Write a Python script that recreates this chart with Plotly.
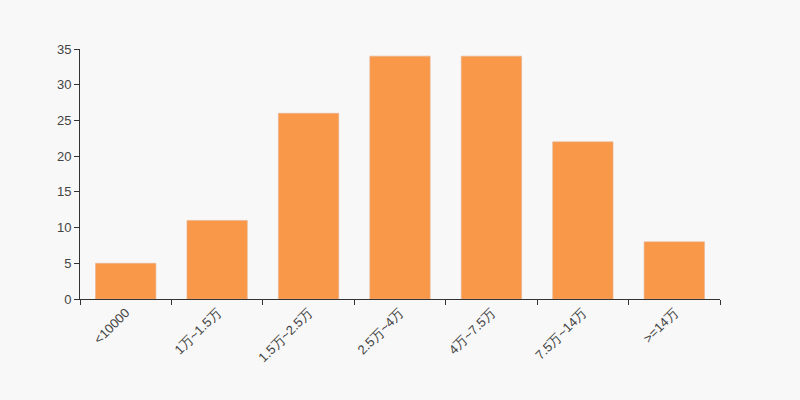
import plotly.graph_objects as go

categories = ["<10000", "1万~1.5万", "1.5万~2.5万", "2.5万~4万", "4万~7.5万", "7.5万~14万", ">=14万"]
values = [5, 11, 26, 34, 34, 22, 8]

fig = go.Figure(go.Bar(
    x=categories, y=values,
    marker=dict(color="#f89848", line=dict(color="#e8b090", width=0.6)),
    hoverinfo="x+y",
))
fig.update_layout(
    width=800, height=400,
    margin=dict(l=80, r=80, t=49, b=101),
    paper_bgcolor="#f8f8f8", plot_bgcolor="#f8f8f8",
    bargap=0.34, showlegend=False,
    font=dict(family="Liberation Sans, Arial, sans-serif", size=13, color="#333"),
)
fig.update_xaxes(
    type="category", tickangle=-45, tickson="boundaries",
    ticks="outside", ticklen=5, tickcolor="#333",
    showline=True, linecolor="#333", linewidth=1,
    showgrid=False, zeroline=False,
    tickfont=dict(size=13, color="#444"),
)
fig.update_yaxes(
    range=[0, 35], dtick=5,
    ticks="outside", ticklen=5, tickcolor="#333",
    showline=True, linecolor="#333", linewidth=1,
    showgrid=False, zeroline=False,
    tickfont=dict(size=13, color="#444"),
)
fig.write_html("out.html", config={"displayModeBar": False},
               post_script="document.body.style.margin='0';document.body.style.background='#f8f8f8';")
